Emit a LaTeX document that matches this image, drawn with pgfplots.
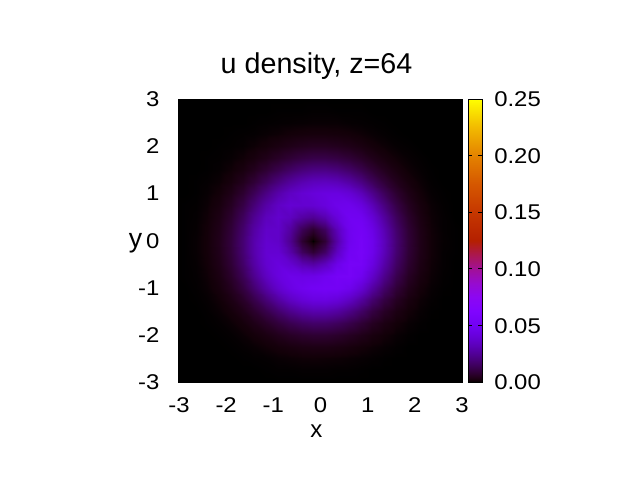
\documentclass[border=0pt]{standalone}
\usepackage{fontspec}
\setmainfont{Liberation Sans}
\newfontfamily\tickfamily{Liberation Sans}[FakeStretch=1.12]
\usepackage{pgfplots}
\pgfplotsset{compat=1.18}

% gnuplot default palette (rgbformulae 7,5,15)
\pgfplotsset{
  colormap={gp}{[5pt]
    rgb(0pt)=(0,0,0)
    rgb(5pt)=(0.0707,0,0.0314)
    rgb(10pt)=(0.1,0,0.0628)
    rgb(20pt)=(0.1414,0,0.1253)
    rgb(30pt)=(0.1732,0,0.1874)
    rgb(40pt)=(0.2,0.0001,0.2487)
    rgb(60pt)=(0.2449,0.0002,0.3681)
    rgb(80pt)=(0.2828,0.0005,0.4818)
    rgb(100pt)=(0.3162,0.001,0.5878)
    rgb(125pt)=(0.3536,0.002,0.7071)
    rgb(150pt)=(0.3873,0.0034,0.8090)
    rgb(175pt)=(0.4183,0.0054,0.8910)
    rgb(200pt)=(0.4472,0.008,0.9511)
    rgb(250pt)=(0.5,0.0156,1)
    rgb(300pt)=(0.5477,0.027,0.9511)
    rgb(350pt)=(0.5916,0.0429,0.8090)
    rgb(400pt)=(0.6325,0.064,0.5878)
    rgb(450pt)=(0.6708,0.0911,0.3090)
    rgb(500pt)=(0.7071,0.125,0)
    rgb(600pt)=(0.7746,0.216,0)
    rgb(700pt)=(0.8367,0.343,0)
    rgb(800pt)=(0.8944,0.512,0)
    rgb(900pt)=(0.9487,0.729,0)
    rgb(1000pt)=(1,1,0)
  },
}

\newcommand{\tickfont}{\tickfamily\fontsize{16}{18}\selectfont}

% density on a 26 x 25 grid (x fastest)
\pgfplotstableread{
x y z
-3.15 -3 0
-2.9 -3 0
-2.65 -3 0
-2.4 -3 0
-2.15 -3 0
-1.9 -3 0
-1.65 -3 0
-1.4 -3 0
-1.15 -3 0
-0.9 -3 0
-0.65 -3 0
-0.4 -3 0
-0.15 -3 0
0.1 -3 0
0.35 -3 0
0.6 -3 0
0.85 -3 0
1.1 -3 0
1.35 -3 0
1.6 -3 0
1.85 -3 0
2.1 -3 0
2.35 -3 0
2.6 -3 0
2.85 -3 0
3.1 -3 0

-3.15 -2.75 0
-2.9 -2.75 0
-2.65 -2.75 0
-2.4 -2.75 0
-2.15 -2.75 0
-1.9 -2.75 0
-1.65 -2.75 0
-1.4 -2.75 0
-1.15 -2.75 0.0001
-0.9 -2.75 0.0002
-0.65 -2.75 0.0002
-0.4 -2.75 0.0003
-0.15 -2.75 0.0003
0.1 -2.75 0.0003
0.35 -2.75 0.0002
0.6 -2.75 0.0002
0.85 -2.75 0.0001
1.1 -2.75 0
1.35 -2.75 0
1.6 -2.75 0
1.85 -2.75 0
2.1 -2.75 0
2.35 -2.75 0
2.6 -2.75 0
2.85 -2.75 0
3.1 -2.75 0

-3.15 -2.5 0
-2.9 -2.5 0
-2.65 -2.5 0
-2.4 -2.5 0
-2.15 -2.5 0
-1.9 -2.5 0
-1.65 -2.5 0.0001
-1.4 -2.5 0.0002
-1.15 -2.5 0.0003
-0.9 -2.5 0.0006
-0.65 -2.5 0.0008
-0.4 -2.5 0.0010
-0.15 -2.5 0.0011
0.1 -2.5 0.0010
0.35 -2.5 0.0009
0.6 -2.5 0.0007
0.85 -2.5 0.0005
1.1 -2.5 0.0003
1.35 -2.5 0.0001
1.6 -2.5 0
1.85 -2.5 0
2.1 -2.5 0
2.35 -2.5 0
2.6 -2.5 0
2.85 -2.5 0
3.1 -2.5 0

-3.15 -2.25 0
-2.9 -2.25 0
-2.65 -2.25 0
-2.4 -2.25 0
-2.15 -2.25 0
-1.9 -2.25 0.0001
-1.65 -2.25 0.0003
-1.4 -2.25 0.0006
-1.15 -2.25 0.0011
-0.9 -2.25 0.0017
-0.65 -2.25 0.0023
-0.4 -2.25 0.0029
-0.15 -2.25 0.0031
0.1 -2.25 0.0031
0.35 -2.25 0.0027
0.6 -2.25 0.0021
0.85 -2.25 0.0014
1.1 -2.25 0.0009
1.35 -2.25 0.0005
1.6 -2.25 0.0002
1.85 -2.25 0
2.1 -2.25 0
2.35 -2.25 0
2.6 -2.25 0
2.85 -2.25 0
3.1 -2.25 0

-3.15 -2 0
-2.9 -2 0
-2.65 -2 0
-2.4 -2 0
-2.15 -2 0.0001
-1.9 -2 0.0003
-1.65 -2 0.0008
-1.4 -2 0.0016
-1.15 -2 0.0027
-0.9 -2 0.0043
-0.65 -2 0.0059
-0.4 -2 0.0072
-0.15 -2 0.0079
0.1 -2 0.0078
0.35 -2 0.0068
0.6 -2 0.0054
0.85 -2 0.0038
1.1 -2 0.0023
1.35 -2 0.0013
1.6 -2 0.0006
1.85 -2 0.0002
2.1 -2 0
2.35 -2 0
2.6 -2 0
2.85 -2 0
3.1 -2 0

-3.15 -1.75 0
-2.9 -1.75 0
-2.65 -1.75 0
-2.4 -1.75 0.0001
-2.15 -1.75 0.0003
-1.9 -1.75 0.0008
-1.65 -1.75 0.0018
-1.4 -1.75 0.0036
-1.15 -1.75 0.0062
-0.9 -1.75 0.0094
-0.65 -1.75 0.0127
-0.4 -1.75 0.0154
-0.15 -1.75 0.0168
0.1 -1.75 0.0166
0.35 -1.75 0.0148
0.6 -1.75 0.0119
0.85 -1.75 0.0085
1.1 -1.75 0.0053
1.35 -1.75 0.0029
1.6 -1.75 0.0014
1.85 -1.75 0.0006
2.1 -1.75 0.0002
2.35 -1.75 0
2.6 -1.75 0
2.85 -1.75 0
3.1 -1.75 0

-3.15 -1.5 0
-2.9 -1.5 0
-2.65 -1.5 0
-2.4 -1.5 0.0002
-2.15 -1.5 0.0007
-1.9 -1.5 0.0017
-1.65 -1.5 0.0037
-1.4 -1.5 0.0071
-1.15 -1.5 0.0119
-0.9 -1.5 0.0175
-0.65 -1.5 0.0230
-0.4 -1.5 0.0274
-0.15 -1.5 0.0297
0.1 -1.5 0.0296
0.35 -1.5 0.0270
0.6 -1.5 0.0222
0.85 -1.5 0.0164
1.1 -1.5 0.0106
1.35 -1.5 0.0060
1.6 -1.5 0.0030
1.85 -1.5 0.0013
2.1 -1.5 0.0005
2.35 -1.5 0.0001
2.6 -1.5 0
2.85 -1.5 0
3.1 -1.5 0

-3.15 -1.25 0
-2.9 -1.25 0
-2.65 -1.25 0.0001
-2.4 -1.25 0.0004
-2.15 -1.25 0.0012
-1.9 -1.25 0.0031
-1.65 -1.25 0.0066
-1.4 -1.25 0.0122
-1.15 -1.25 0.0196
-0.9 -1.25 0.0277
-0.65 -1.25 0.0350
-0.4 -1.25 0.0403
-0.15 -1.25 0.0433
0.1 -1.25 0.0437
0.35 -1.25 0.0411
0.6 -1.25 0.0353
0.85 -1.25 0.0271
1.1 -1.25 0.0183
1.35 -1.25 0.0108
1.6 -1.25 0.0055
1.85 -1.25 0.0024
2.1 -1.25 0.0009
2.35 -1.25 0.0003
2.6 -1.25 0
2.85 -1.25 0
3.1 -1.25 0

-3.15 -1 0
-2.9 -1 0
-2.65 -1 0.0002
-2.4 -1 0.0007
-2.15 -1 0.0020
-1.9 -1 0.0049
-1.65 -1 0.0102
-1.4 -1 0.0181
-1.15 -1 0.0278
-0.9 -1 0.0370
-0.65 -1 0.0439
-0.4 -1 0.0480
-0.15 -1 0.0506
0.1 -1 0.0522
0.35 -1 0.0518
0.6 -1 0.0475
0.85 -1 0.0388
1.1 -1 0.0275
1.35 -1 0.0168
1.6 -1 0.0088
1.85 -1 0.0040
2.1 -1 0.0015
2.35 -1 0.0005
2.6 -1 0.0001
2.85 -1 0
3.1 -1 0

-3.15 -0.75 0
-2.9 -0.75 0.0001
-2.65 -0.75 0.0003
-2.4 -0.75 0.0010
-2.15 -0.75 0.0028
-1.9 -0.75 0.0068
-1.65 -0.75 0.0138
-1.4 -0.75 0.0237
-1.15 -0.75 0.0343
-0.9 -0.75 0.0422
-0.65 -0.75 0.0458
-0.4 -0.75 0.0448
-0.15 -0.75 0.0451
0.1 -0.75 0.0488
0.35 -0.75 0.0536
0.6 -0.75 0.0544
0.85 -0.75 0.0483
1.1 -0.75 0.0364
1.35 -0.75 0.0232
1.6 -0.75 0.0125
1.85 -0.75 0.0057
2.1 -0.75 0.0023
2.35 -0.75 0.0008
2.6 -0.75 0.0002
2.85 -0.75 0
3.1 -0.75 0

-3.15 -0.5 0
-2.9 -0.5 0.0001
-2.65 -0.5 0.0004
-2.4 -0.5 0.0013
-2.15 -0.5 0.0036
-1.9 -0.5 0.0085
-1.65 -0.5 0.0168
-1.4 -0.5 0.0277
-1.15 -0.5 0.0377
-0.9 -0.5 0.0419
-0.65 -0.5 0.0383
-0.4 -0.5 0.0309
-0.15 -0.5 0.0277
0.1 -0.5 0.0337
0.35 -0.5 0.0456
0.6 -0.5 0.0544
0.85 -0.5 0.0535
1.1 -0.5 0.0430
1.35 -0.5 0.0286
1.6 -0.5 0.0159
1.85 -0.5 0.0075
2.1 -0.5 0.0030
2.35 -0.5 0.0010
2.6 -0.5 0.0003
2.85 -0.5 0
3.1 -0.5 0

-3.15 -0.25 0
-2.9 -0.25 0.0001
-2.65 -0.25 0.0005
-2.4 -0.25 0.0015
-2.15 -0.25 0.0041
-1.9 -0.25 0.0095
-1.65 -0.25 0.0185
-1.4 -0.25 0.0296
-1.15 -0.25 0.0383
-0.9 -0.25 0.0386
-0.65 -0.25 0.0287
-0.4 -0.25 0.0148
-0.15 -0.25 0.0083
0.1 -0.25 0.0162
0.35 -0.25 0.0343
0.6 -0.25 0.0504
0.85 -0.25 0.0548
1.1 -0.25 0.0465
1.35 -0.25 0.0320
1.6 -0.25 0.0181
1.85 -0.25 0.0086
2.1 -0.25 0.0035
2.35 -0.25 0.0012
2.6 -0.25 0.0003
2.85 -0.25 0.0001
3.1 -0.25 0

-3.15 0 0
-2.9 0 0.0001
-2.65 0 0.0005
-2.4 0 0.0015
-2.15 0 0.0042
-1.9 0 0.0096
-1.65 0 0.0186
-1.4 0 0.0295
-1.15 0 0.0374
-0.9 0 0.0361
-0.65 0 0.0239
-0.4 0 0.0077
-0.15 0 0
0.1 0 0.0085
0.35 0 0.0287
0.6 0 0.0476
0.85 0 0.0541
1.1 0 0.0470
1.35 0 0.0327
1.6 0 0.0187
1.85 0 0.0089
2.1 0 0.0036
2.35 0 0.0012
2.6 0 0.0004
2.85 0 0.0001
3.1 0 0

-3.15 0.25 0
-2.9 0.25 0.0001
-2.65 0.25 0.0004
-2.4 0.25 0.0014
-2.15 0.25 0.0038
-1.9 0.25 0.0088
-1.65 0.25 0.0172
-1.4 0.25 0.0277
-1.15 0.25 0.0359
-0.9 0.25 0.0363
-0.65 0.25 0.0271
-0.4 0.25 0.0140
-0.15 0.25 0.0079
0.1 0.25 0.0154
0.35 0.25 0.0327
0.6 0.25 0.0482
0.85 0.25 0.0524
1.1 0.25 0.0446
1.35 0.25 0.0307
1.6 0.25 0.0174
1.85 0.25 0.0083
2.1 0.25 0.0033
2.35 0.25 0.0011
2.6 0.25 0.0003
2.85 0.25 0.0001
3.1 0.25 0

-3.15 0.5 0
-2.9 0.5 0.0001
-2.65 0.5 0.0003
-2.4 0.5 0.0011
-2.15 0.5 0.0031
-1.9 0.5 0.0073
-1.65 0.5 0.0146
-1.4 0.5 0.0242
-1.15 0.5 0.0331
-0.9 0.5 0.0371
-0.65 0.5 0.0341
-0.4 0.5 0.0277
-0.15 0.5 0.0249
0.1 0.5 0.0305
0.35 0.5 0.0414
0.6 0.5 0.0496
0.85 0.5 0.0489
1.1 0.5 0.0395
1.35 0.5 0.0264
1.6 0.5 0.0147
1.85 0.5 0.0069
2.1 0.5 0.0027
2.35 0.5 0.0009
2.6 0.5 0.0003
2.85 0.5 0
3.1 0.5 0

-3.15 0.75 0
-2.9 0.75 0.0001
-2.65 0.75 0.0002
-2.4 0.75 0.0008
-2.15 0.75 0.0022
-1.9 0.75 0.0054
-1.65 0.75 0.0111
-1.4 0.75 0.0193
-1.15 0.75 0.0283
-0.9 0.75 0.0351
-0.65 0.75 0.0386
-0.4 0.75 0.0380
-0.15 0.75 0.0385
0.1 0.75 0.0419
0.35 0.75 0.0463
0.6 0.75 0.0474
0.85 0.75 0.0422
1.1 0.75 0.0320
1.35 0.75 0.0205
1.6 0.75 0.0111
1.85 0.75 0.0051
2.1 0.75 0.0020
2.35 0.75 0.0007
2.6 0.75 0.0002
2.85 0.75 0
3.1 0.75 0

-3.15 1 0
-2.9 1 0
-2.65 1 0.0001
-2.4 1 0.0005
-2.15 1 0.0014
-1.9 1 0.0036
-1.65 1 0.0076
-1.4 1 0.0138
-1.15 1 0.0215
-0.9 1 0.0290
-0.65 1 0.0348
-0.4 1 0.0385
-0.15 1 0.0409
0.1 1 0.0426
0.35 1 0.0427
0.6 1 0.0395
0.85 1 0.0324
1.1 1 0.0232
1.35 1 0.0143
1.6 1 0.0075
1.85 1 0.0034
2.1 1 0.0013
2.35 1 0.0004
2.6 1 0.0001
2.85 1 0
3.1 1 0

-3.15 1.25 0
-2.9 1.25 0
-2.65 1.25 0.0001
-2.4 1.25 0.0003
-2.15 1.25 0.0008
-1.9 1.25 0.0021
-1.65 1.25 0.0046
-1.4 1.25 0.0086
-1.15 1.25 0.0142
-0.9 1.25 0.0204
-0.65 1.25 0.0261
-0.4 1.25 0.0305
-0.15 1.25 0.0332
0.1 1.25 0.0339
0.35 1.25 0.0323
0.6 1.25 0.0280
0.85 1.25 0.0217
1.1 1.25 0.0148
1.35 1.25 0.0088
1.6 1.25 0.0045
1.85 1.25 0.0020
2.1 1.25 0.0008
2.35 1.25 0.0002
2.6 1.25 0
2.85 1.25 0
3.1 1.25 0

-3.15 1.5 0
-2.9 1.5 0
-2.65 1.5 0
-2.4 1.5 0.0001
-2.15 1.5 0.0004
-1.9 1.5 0.0011
-1.65 1.5 0.0024
-1.4 1.5 0.0047
-1.15 1.5 0.0081
-0.9 1.5 0.0121
-0.65 1.5 0.0162
-0.4 1.5 0.0196
-0.15 1.5 0.0216
0.1 1.5 0.0219
0.35 1.5 0.0202
0.6 1.5 0.0168
0.85 1.5 0.0125
1.1 1.5 0.0082
1.35 1.5 0.0047
1.6 1.5 0.0024
1.85 1.5 0.0010
2.1 1.5 0.0004
2.35 1.5 0.0001
2.6 1.5 0
2.85 1.5 0
3.1 1.5 0

-3.15 1.75 0
-2.9 1.75 0
-2.65 1.75 0
-2.4 1.75 0.0001
-2.15 1.75 0.0002
-1.9 1.75 0.0005
-1.65 1.75 0.0011
-1.4 1.75 0.0022
-1.15 1.75 0.0039
-0.9 1.75 0.0061
-0.65 1.75 0.0084
-0.4 1.75 0.0104
-0.15 1.75 0.0116
0.1 1.75 0.0116
0.35 1.75 0.0105
0.6 1.75 0.0086
0.85 1.75 0.0062
1.1 1.75 0.0039
1.35 1.75 0.0022
1.6 1.75 0.0011
1.85 1.75 0.0005
2.1 1.75 0.0002
2.35 1.75 0
2.6 1.75 0
2.85 1.75 0
3.1 1.75 0

-3.15 2 0
-2.9 2 0
-2.65 2 0
-2.4 2 0
-2.15 2 0.0001
-1.9 2 0.0002
-1.65 2 0.0004
-1.4 2 0.0009
-1.15 2 0.0016
-0.9 2 0.0026
-0.65 2 0.0037
-0.4 2 0.0046
-0.15 2 0.0052
0.1 2 0.0052
0.35 2 0.0046
0.6 2 0.0037
0.85 2 0.0026
1.1 2 0.0016
1.35 2 0.0009
1.6 2 0.0004
1.85 2 0.0002
2.1 2 0
2.35 2 0
2.6 2 0
2.85 2 0
3.1 2 0

-3.15 2.25 0
-2.9 2.25 0
-2.65 2.25 0
-2.4 2.25 0
-2.15 2.25 0
-1.9 2.25 0.0001
-1.65 2.25 0.0002
-1.4 2.25 0.0003
-1.15 2.25 0.0006
-0.9 2.25 0.0009
-0.65 2.25 0.0014
-0.4 2.25 0.0017
-0.15 2.25 0.0019
0.1 2.25 0.0019
0.35 2.25 0.0017
0.6 2.25 0.0014
0.85 2.25 0.0010
1.1 2.25 0.0006
1.35 2.25 0.0003
1.6 2.25 0.0001
1.85 2.25 0
2.1 2.25 0
2.35 2.25 0
2.6 2.25 0
2.85 2.25 0
3.1 2.25 0

-3.15 2.5 0
-2.9 2.5 0
-2.65 2.5 0
-2.4 2.5 0
-2.15 2.5 0
-1.9 2.5 0
-1.65 2.5 0
-1.4 2.5 0.0001
-1.15 2.5 0.0002
-0.9 2.5 0.0003
-0.65 2.5 0.0004
-0.4 2.5 0.0005
-0.15 2.5 0.0006
0.1 2.5 0.0006
0.35 2.5 0.0006
0.6 2.5 0.0004
0.85 2.5 0.0003
1.1 2.5 0.0002
1.35 2.5 0.0001
1.6 2.5 0
1.85 2.5 0
2.1 2.5 0
2.35 2.5 0
2.6 2.5 0
2.85 2.5 0
3.1 2.5 0

-3.15 2.75 0
-2.9 2.75 0
-2.65 2.75 0
-2.4 2.75 0
-2.15 2.75 0
-1.9 2.75 0
-1.65 2.75 0
-1.4 2.75 0
-1.15 2.75 0
-0.9 2.75 0.0001
-0.65 2.75 0.0001
-0.4 2.75 0.0001
-0.15 2.75 0.0002
0.1 2.75 0.0002
0.35 2.75 0.0001
0.6 2.75 0.0001
0.85 2.75 0.0001
1.1 2.75 0
1.35 2.75 0
1.6 2.75 0
1.85 2.75 0
2.1 2.75 0
2.35 2.75 0
2.6 2.75 0
2.85 2.75 0
3.1 2.75 0

-3.15 3 0
-2.9 3 0
-2.65 3 0
-2.4 3 0
-2.15 3 0
-1.9 3 0
-1.65 3 0
-1.4 3 0
-1.15 3 0
-0.9 3 0
-0.65 3 0
-0.4 3 0
-0.15 3 0
0.1 3 0
0.35 3 0
0.6 3 0
0.85 3 0
1.1 3 0
1.35 3 0
1.6 3 0
1.85 3 0
2.1 3 0
2.35 3 0
2.6 3 0
2.85 3 0
3.1 3 0
}\densitytable

\begin{document}
\begin{tikzpicture}
\path[use as bounding box] (-134.25pt,-73.5pt) rectangle (345.75pt,286.5pt);
\begin{axis}[
  scale only axis,
  width=212.25pt, height=212.25pt,
  xmin=-3, xmax=3, ymin=-3, ymax=3,
  xtick={-3,-2,-1,0,1,2,3},
  ytick={-3,-2,-1,0,1,2,3},
  axis background/.style={fill=black},
  axis line style={line width=0.5pt},
  tick align=inside,
  major tick length=5pt,
  tick style={black, line width=0.5pt},
  /pgf/number format/assume math mode=true,
  ticklabel style={font=\tickfont},
  xticklabel style={inner sep=0pt, anchor=base, yshift=-23pt},
  yticklabel style={inner sep=0pt, anchor=base east, xshift=-14.5pt, yshift=-5.7pt},
  title={u density, z=64},
  every axis title/.style={at={(axis description cs:0.5,1)}, anchor=base,
    inner sep=0pt, yshift=19.5pt, xshift=-3pt,
    font=\fontsize{21.5}{25}\selectfont},
  xlabel={x},
  every axis x label/.style={at={(axis description cs:0.5,0)}, anchor=base,
    inner sep=0pt, yshift=-41.5pt, xshift=-3pt,
    font=\fontsize{18}{20}\selectfont},
  ylabel={y},
  every axis y label/.style={at={(axis description cs:0,0.5)}, anchor=base,
    inner sep=0pt, xshift=-32.6pt, yshift=-4.9pt,
    font=\fontsize{20}{24}\selectfont},
  colormap name=gp,
  point meta min=0, point meta max=0.25,
  colorbar,
  colorbar style={
    at={(parent axis.north east)}, anchor=north west, xshift=-4pt,
    scale only axis, width=10.5pt, height=212.25pt,
    ymin=0, ymax=0.25,
    ytick={0,0.05,0.1,0.15,0.2,0.25},
    ytick pos=both, yticklabel pos=right,
    tick align=inside, major tick length=3pt,
    tick style={black, line width=0.5pt},
    axis line style={line width=0.5pt},
    yticklabel style={font=\tickfont, inner sep=0pt, anchor=base west,
      xshift=9pt, yshift=-5.7pt,
      /pgf/number format/.cd, fixed, fixed zerofill, precision=2,
      assume math mode=true},
  },
]
\addplot[surf, shader=interp, mesh/cols=26, point meta=explicit]
  table[x=x, y=y, meta=z] {\densitytable};
\end{axis}
\end{tikzpicture}
\end{document}
